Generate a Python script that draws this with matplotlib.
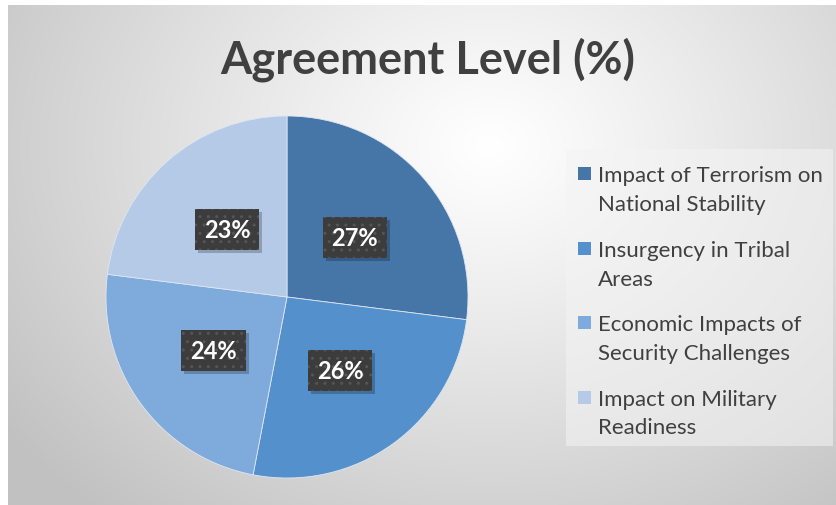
import numpy as np
import matplotlib
matplotlib.use("Agg")
import matplotlib.pyplot as plt
from matplotlib.patches import Rectangle

categories = ["Impact of Terrorism on\nNational Stability",
              "Insurgency in Tribal\nAreas",
              "Economic Impacts of\nSecurity Challenges",
              "Impact on Military\nReadiness"]
values = [27, 26, 24, 23]
colors = ["#4675A8", "#5490CB", "#7FAADC", "#B4CAE7"]
title = "Agreement Level (%)"

W, H = 837, 506
fig = plt.figure(figsize=(W / 100, H / 100), dpi=100)
fig.patch.set_facecolor("white")

# background gradient panel
x0 = 8 / W
bg = fig.add_axes([x0, 0, 1 - x0, 1 - 6 / H])
bg.set_axis_off()
ny, nx = 250, 420
yy, xx = np.mgrid[0:ny, 0:nx]
cx, cy = nx * 0.58, ny * 0.28
d = np.sqrt(((xx - cx) / nx) ** 2 + ((yy - cy) / ny * 0.75) ** 2)
d = d / d.max()
g = 1.0 - 0.24 * np.clip(d * 1.1, 0, 1) ** 1.1
img = np.dstack([g, g, g])
bg.imshow(img, aspect="auto", extent=[0, 1, 0, 1], interpolation="bilinear")
bg.set_xlim(0, 1)
bg.set_ylim(0, 1)

fig.text(428 / W, 1 - 60 / H, title, ha="center", va="center",
         fontsize=32.5, fontweight="bold", color="#404040", family="Lato")

# pie
R = 181
cxp, cyp = 287, 298
ax = fig.add_axes([(cxp - R) / W, 1 - (cyp + R) / H, 2 * R / W, 2 * R / H])
wedges, texts, autotexts = ax.pie(values, colors=colors, startangle=90,
                                  counterclock=False, autopct="%d%%",
                                  pctdistance=0.5,
                                  wedgeprops=dict(linewidth=0.6, edgecolor="#dde6f2"))
ax.set_aspect("auto")
ax.set_xlim(-1, 1)
ax.set_ylim(-1, 1)
fs = 17
for t in autotexts:
    t.set_color("white")
    t.set_fontsize(fs)
    t.set_fontweight("bold")
    t.set_family("Lato")
    t.set_zorder(5)
    t.set_bbox(dict(boxstyle="square,pad=0.38", facecolor="#3c3c3c",
                    edgecolor="#555555", hatch="..", linewidth=0))

# drop shadows behind the label boxes (inside the pie axes, below the labels)
fig.canvas.draw()
for t in autotexts:
    bb = t.get_bbox_patch().get_window_extent()
    sh = Rectangle(((bb.x0 + 3) / W, (bb.y0 - 3) / H), bb.width / W, bb.height / H,
                   transform=fig.transFigure, facecolor="black",
                   alpha=0.22, edgecolor="none", zorder=4)
    ax.add_artist(sh)

# legend (drawn manually so markers align with the first line)
lx0, ly0, lx1, ly1 = 566, 150, 833, 447
fig.patches.append(Rectangle((lx0 / W, 1 - ly1 / H), (lx1 - lx0) / W, (ly1 - ly0) / H,
                             transform=fig.transFigure, facecolor="#f4f4f4",
                             alpha=0.55, edgecolor="none", zorder=1))
for i, (lab, col) in enumerate(zip(categories, colors)):
    top = 168 + 74.5 * i
    fig.patches.append(Rectangle((578 / W, 1 - (top + 13) / H), 13 / W, 13 / H,
                                 transform=fig.transFigure, facecolor=col,
                                 edgecolor="none", zorder=2))
    l1, l2 = lab.split("\n")
    fig.text(598 / W, 1 - (top + 6.5) / H, l1, ha="left",
             va="center_baseline", fontsize=16, color="#404040", family="Lato")
    fig.text(598 / W, 1 - (top + 35) / H, l2, ha="left",
             va="center_baseline", fontsize=16, color="#404040", family="Lato")

fig.savefig("out.png", dpi=100)
